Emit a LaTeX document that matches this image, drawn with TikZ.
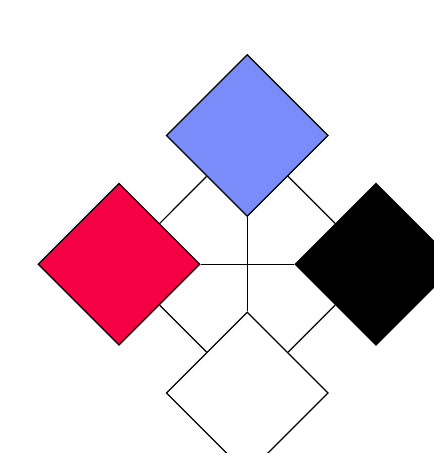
\documentclass[tikz,border=0pt]{standalone}
\usetikzlibrary{shapes.geometric}
\definecolor{dblue}{RGB}{122,139,250}
\definecolor{dred}{RGB}{245,0,69}
\tikzset{
  dnode/.style={diamond, draw=black, line width=1.2pt, minimum width=162pt, minimum height=162pt, inner sep=0pt, aspect=1},
  link/.style={draw=black, line width=1.2pt}
}
\begin{document}
\begin{tikzpicture}[x=1pt,y=-1pt]
\clip (0,0) rectangle (434,453);
\useasboundingbox (0,0) rectangle (434,453);
\node[dnode, fill=dblue] (top) at (247.3,135.5) {};
\node[dnode, fill=dred] (left) at (119,264.3) {};
\node[dnode, fill=black] (right) at (376,264.3) {};
\node[dnode, fill=white] (bottom) at (247.3,393) {};
\draw[link] (top) -- (left);
\draw[link] (top) -- (right);
\draw[link] (top) -- (bottom);
\draw[link] (left) -- (right);
\draw[link] (left) -- (bottom);
\draw[link] (right) -- (bottom);
\end{tikzpicture}
\end{document}
